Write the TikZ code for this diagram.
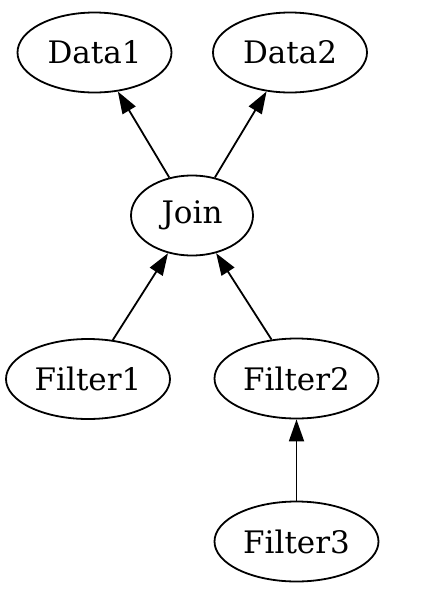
\documentclass[tikz,border=0pt]{standalone}
\usepackage{fontspec}
\setmainfont{DejaVu Serif}
\usetikzlibrary{arrows.meta, shapes.geometric}

\begin{document}
\begin{tikzpicture}[x=1pt, y=-1pt, line width=1.8pt, >={Triangle[length=22pt,width=15pt]},
        every node/.style={ellipse, draw, inner sep=0pt, minimum height=80pt, font=\fontsize{31}{37}\selectfont}]
        \useasboundingbox (0,0) rectangle (432,598);
        \node[minimum width=154pt] (d1) at (94.5,52.5) {Data1};
        \node[minimum width=154pt] (d2) at (290,52.5) {Data2};
        \node[minimum width=122pt] (jn) at (192,215.5) {Join};
        \node[minimum width=164pt] (f1) at (88,379) {Filter1};
        \node[minimum width=164pt] (f2) at (296.5,378.5) {Filter2};
        \node[minimum width=164pt] (f3) at (296.5,541.5) {Filter3};
        \draw[->] (jn) -- (d1);
        \draw[->] (jn) -- (d2);
        
        \draw[->] (f1) -- (jn);
        \draw[->] (f2) -- (jn);
        
        \draw[->] (f3) -- (f2);
    \end{tikzpicture}
\end{document}
